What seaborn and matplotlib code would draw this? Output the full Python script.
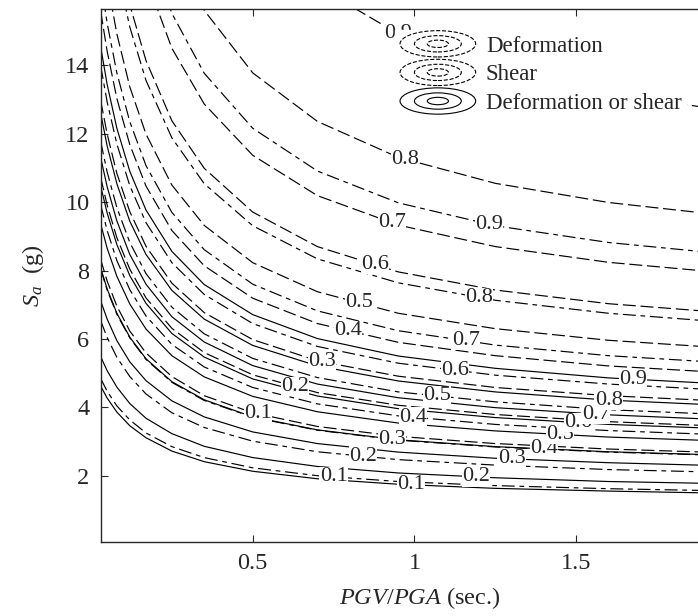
import numpy as np
import pandas as pd
import seaborn as sns
import matplotlib
matplotlib.use("Agg")
import matplotlib.pyplot as plt
from matplotlib.legend_handler import HandlerBase
from matplotlib.patches import Ellipse
from matplotlib.lines import Line2D

# PGV/PGA nodes where the contours were read
x_nodes = [0.03, 0.05, 0.08, 0.12, 0.17, 0.25, 0.35, 0.5, 0.7, 0.95, 1.25, 1.6, 2.0]
levels = [0.1, 0.2, 0.3, 0.4, 0.5, 0.6, 0.7, 0.8, 0.9]

# Deformation (dashed)
sa_deform = [
    [8.32, 7.69, 6.96, 6.23, 5.59, 4.90, 4.34, 3.84, 3.44, 3.15, 2.94, 2.78, 2.66],
    [10.72, 9.91, 8.96, 8.04, 7.20, 6.31, 5.60, 4.95, 4.43, 4.06, 3.79, 3.58, 3.43],
    [12.97, 11.99, 10.84, 9.72, 8.71, 7.63, 6.77, 5.98, 5.36, 4.91, 4.58, 4.34, 4.16],
    [15.58, 14.41, 13.03, 11.68, 10.47, 9.17, 8.14, 7.19, 6.45, 5.90, 5.51, 5.21, 4.99],
    [17.83, 16.48, 14.92, 13.37, 11.99, 10.50, 9.32, 8.23, 7.38, 6.75, 6.30, 5.96, 5.71],
    [21.04, 19.45, 17.59, 15.77, 14.14, 12.38, 10.99, 9.71, 8.70, 7.96, 7.43, 7.03, 6.74],
    [24.64, 22.78, 20.61, 18.47, 16.56, 14.50, 12.87, 11.37, 10.19, 9.33, 8.70, 8.24, 7.90],
    [29.88, 27.62, 24.99, 22.40, 20.08, 17.59, 15.61, 13.78, 12.36, 11.31, 10.55, 9.99, 9.57],
    [39.42, 36.44, 32.97, 29.56, 26.50, 23.21, 20.60, 18.19, 16.31, 14.92, 13.93, 13.18, 12.63],
]
# Shear (dash-dot)
sa_shear = [
    [4.84, 4.47, 4.04, 3.63, 3.25, 2.85, 2.53, 2.23, 2.00, 1.83, 1.71, 1.62, 1.55],
    [6.53, 6.04, 5.46, 4.90, 4.39, 3.84, 3.41, 3.01, 2.70, 2.47, 2.31, 2.18, 2.09],
    [8.04, 7.43, 6.72, 6.03, 5.40, 4.73, 4.20, 3.71, 3.33, 3.04, 2.84, 2.69, 2.58],
    [9.92, 9.17, 8.29, 7.44, 6.67, 5.84, 5.18, 4.58, 4.10, 3.75, 3.50, 3.32, 3.18],
    [11.77, 10.88, 9.84, 8.82, 7.91, 6.93, 6.15, 5.43, 4.87, 4.45, 4.16, 3.93, 3.77],
    [13.98, 12.93, 11.70, 10.48, 9.40, 8.23, 7.30, 6.45, 5.78, 5.29, 4.94, 4.68, 4.48],
    [16.48, 15.23, 13.78, 12.35, 11.07, 9.70, 8.61, 7.60, 6.82, 6.24, 5.82, 5.51, 5.28],
    [20.17, 18.65, 16.87, 15.12, 13.56, 11.88, 10.54, 9.31, 8.34, 7.64, 7.13, 6.75, 6.46],
    [26.36, 24.37, 22.05, 19.77, 17.72, 15.52, 13.77, 12.16, 10.91, 9.98, 9.31, 8.82, 8.45],
]
# Deformation or shear (solid)
sa_either = [
    [4.62, 4.27, 3.86, 3.46, 3.11, 2.72, 2.41, 2.13, 1.91, 1.75, 1.63, 1.55, 1.48],
    [5.48, 5.07, 4.59, 4.11, 3.68, 3.23, 2.86, 2.53, 2.27, 2.08, 1.94, 1.83, 1.76],
    [7.11, 6.58, 5.95, 5.33, 4.78, 4.19, 3.72, 3.28, 2.94, 2.69, 2.51, 2.38, 2.28],
    [8.07, 7.46, 6.75, 6.05, 5.42, 4.75, 4.22, 3.72, 3.34, 3.05, 2.85, 2.70, 2.59],
    [9.36, 8.65, 7.83, 7.02, 6.29, 5.51, 4.89, 4.32, 3.87, 3.54, 3.31, 3.13, 3.00],
    [10.47, 9.68, 8.76, 7.85, 7.04, 6.16, 5.47, 4.83, 4.33, 3.96, 3.70, 3.50, 3.36],
    [11.30, 10.45, 9.45, 8.47, 7.60, 6.65, 5.91, 5.22, 4.68, 4.28, 3.99, 3.78, 3.62],
    [12.60, 11.64, 10.54, 9.44, 8.47, 7.42, 6.58, 5.81, 5.21, 4.77, 4.45, 4.21, 4.04],
    [14.54, 13.44, 12.16, 10.90, 9.77, 8.56, 7.59, 6.71, 6.01, 5.50, 5.14, 4.86, 4.66],
]

# where the contour labels sit (PGV/PGA)
lab_x_deform = [0.516, 0.63, 0.714, 0.795, 0.83, 0.877, 0.93, 0.97, 0.95]
lab_x_shear = [0.75, 0.84, 0.93, 0.995, 1.07, 1.125, 1.16, 1.20, 1.23]
lab_x_either = [0.99, 1.19, 1.30, 1.40, 1.45, 1.505, 1.56, 1.60, 1.675]

types = ["Deformation", "Shear", "Deformation or shear"]
dash_styles = {"Deformation": (11, 4), "Shear": (11, 4, 4, 4), "Deformation or shear": ""}

rows = []
for name, block in zip(types, [sa_deform, sa_shear, sa_either]):
    for lev, vals in zip(levels, block):
        for xv, sv in zip(x_nodes, vals):
            rows.append({"x": xv, "Sa": sv, "type": name, "curve": f"{name}-{lev}"})
df = pd.DataFrame(rows)

sns.set_style("ticks")
plt.rcParams["font.family"] = ["Liberation Serif", "DejaVu Serif"]
plt.rcParams["mathtext.fontset"] = "custom"
plt.rcParams["mathtext.rm"] = "Liberation Serif"
plt.rcParams["mathtext.it"] = "Liberation Serif:italic"

fig = plt.figure(figsize=(6.98, 6.16), dpi=100)
ax = fig.add_axes([100.7 / 698, 74.3 / 616, 637.3 / 698, 532.4 / 616])

sns.lineplot(data=df, x="x", y="Sa", units="curve", style="type", dashes=dash_styles,
             estimator=None, color="black", lw=0.85, sort=False, legend=False, ax=ax)

for block, labx in zip([sa_deform, sa_shear, sa_either], [lab_x_deform, lab_x_shear, lab_x_either]):
    for lev, vals, lx in zip(levels, block, labx):
        ly = np.interp(lx, x_nodes, vals)
        ax.text(lx, ly, f"{lev:.1f}", ha="center", va="center", fontsize=16,
                bbox=dict(fc="white", ec="none", pad=0.1), zorder=5)

ax.set_xlim(0.03, 2.0)
ax.set_ylim(0.07, 15.64)
ax.set_xticks([0.5, 1, 1.5])
ax.set_xticklabels(["0.5", "1", "1.5"])
ax.set_yticks([2, 4, 6, 8, 10, 12, 14])
ax.tick_params(direction="in", length=5, width=0.8, labelsize=17.5, top=True, right=True, pad=8)
for sp in ax.spines.values():
    sp.set_linewidth(1.0)
ax.set_xlabel("$PGV/PGA$ (sec.)", fontsize=17.5, labelpad=8)
ax.set_ylabel("$S_a$  (g)", fontsize=17.5, labelpad=14)


class RingHandler(HandlerBase):
    def create_artists(self, legend, orig_handle, xdescent, ydescent, width, height, fontsize, trans):
        cx = width / 2 - xdescent
        cy = height / 2 - ydescent
        ls = orig_handle.get_linestyle()
        arts = []
        for s in (1.0, 0.62, 0.28):
            arts.append(Ellipse((cx, cy), width * s, height * 1.5 * s, fill=False, ec="black",
                                lw=0.8, ls=ls, transform=trans))
        return arts


handles = [Line2D([], [], ls=(0, (8, 3))), Line2D([], [], ls=(0, (8, 3, 3, 3))), Line2D([], [], ls="-")]
hmap = {h: RingHandler() for h in handles}
leg = ax.legend(handles, types, handler_map=hmap, loc="upper left",
                bbox_to_anchor=(384 / 698, 1 - 19 / 616), bbox_transform=fig.transFigure,
                fontsize=16.5, frameon=True, fancybox=False, handlelength=3.3, handleheight=0.8,
                labelspacing=0.3, handletextpad=0.45, borderpad=0.2)
leg.get_frame().set_edgecolor("white")
leg.get_frame().set_facecolor("white")
leg.get_frame().set_alpha(1)
leg.set_zorder(10)

fig.savefig("out.png", dpi=100)
